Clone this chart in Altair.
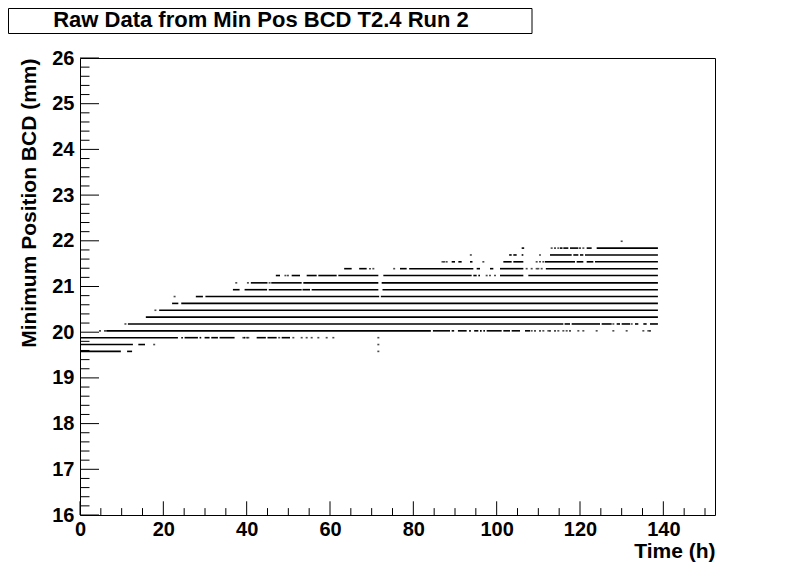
import altair as alt
import pandas as pd

TITLE = "Raw Data from Min Pos BCD T2.4 Run 2"
X_TITLE = "Time (h)"
Y_TITLE = "Minimum Position BCD (mm)"

X_DOMAIN = [0, 152.4]
Y_DOMAIN = [16, 26]
X_LABELS = [0, 20, 40, 60, 80, 100, 120, 140]
X_MINOR = [5, 10, 15, 25, 30, 35, 45, 50, 55, 65, 70, 75, 85, 90, 95,
           105, 110, 115, 125, 130, 135, 145, 150]
Y_LABELS = [16, 17, 18, 19, 20, 21, 22, 23, 24, 25, 26]
Y_MINOR = [round(16 + 0.2 * i, 1) for i in range(1, 50) if i % 5 != 0]

# quantised position levels (mm)
LEVELS = [19.58, 19.73, 19.88, 20.03, 20.18, 20.33, 20.48, 20.63, 20.78,
          20.93, 21.08, 21.24, 21.39, 21.54, 21.69, 21.84, 21.99]

# continuous runs of samples on each level: (start h, end h)
SEGMENTS = [
    [(0, 9.8), (11.3, 12.5)],
    [(0, 12.7), (14.0, 15.6)],
    [(0, 23.5), (24.3, 24.7), (25.1, 28.3), (28.7, 29.1), (29.9, 31.1), (31.5, 33.1),
     (33.5, 37.1), (39.3, 39.7), (42.4, 44.6), (45.0, 47.2), (48.4, 50.4)],
    [(6.3, 84.2), (84.7, 88.8), (89.2, 89.8), (90.7, 92.8), (93.4, 93.8), (94.6, 95.6),
     (96.0, 96.4), (96.8, 97.2), (97.6, 101.2), (101.6, 103.2), (103.6, 105.6), (106.8, 108.0)],
    [(11.5, 116.0), (116.3, 117.6), (118.0, 124.8), (125.2, 127.6), (128.8, 129.6),
     (130.0, 132.0), (133.2, 134.0), (135.2, 136.0), (136.8, 138.7)],
    [(15.8, 138.7)],
    [(19.0, 138.7)],
    [(22.1, 23.6), (24.3, 138.7)],
    [(27.8, 29.5), (30.1, 71.8), (72.2, 138.7)],
    [(36.7, 38.3), (39.5, 44.9), (45.3, 53.2), (53.4, 55.2), (55.6, 71.6), (72.6, 138.7)],
    [(41.0, 45.0), (45.9, 53.2), (53.6, 71.6), (72.4, 138.7)],
    [(47.0, 48.0), (50.8, 52.8), (54.4, 56.8), (57.2, 61.6), (62.0, 71.6), (72.8, 94.0),
     (94.4, 95.2), (95.6, 96.0), (100.8, 106.4), (107.6, 138.7)],
    [(63.4, 65.2), (67.0, 68.8), (76.8, 78.4), (79.0, 94.4), (95.2, 96.0), (98.4, 99.2),
     (100.8, 106.4), (111.8, 138.7)],
    [(89.2, 90.0), (90.8, 91.6), (93.6, 94.2), (101.6, 103.6), (104.0, 106.4), (111.6, 118.8),
     (119.2, 120.8), (121.6, 123.2), (123.6, 138.7)],
    [(103.0, 103.6), (104.0, 104.8), (106.0, 106.4), (112.8, 118.0), (118.4, 119.6),
     (120.0, 120.8), (121.2, 138.7)],
    [(106.0, 106.6), (115.2, 115.8), (116.0, 117.2), (117.6, 119.6), (121.6, 122.8), (124.0, 138.7)],
    [],
]

# isolated samples on each level (h)
DOTS = [
    [71.6],
    [17.8, 71.6],
    [39.2, 40.1, 40.4, 47.8, 51.2, 53.2, 54.4, 55.6, 57.2, 59.2, 60.8, 71.6],
    [4.8, 6.0, 108.4, 109.2, 110.4, 111.2, 112.4, 112.8, 114.0, 114.8, 116.0, 116.8, 117.6,
     119.6, 120.8, 124.0, 128.0, 131.2, 135.2, 136.4, 136.8],
    [10.9, 128.0, 132.4],
    [],
    [18.1],
    [],
    [22.7],
    [],
    [37.5, 40.3, 45.5],
    [49.3, 49.9, 97.6, 98.4, 99.6],
    [69.6, 70.4, 75.4, 107.2, 108.4, 109.6, 110.0, 110.8],
    [87.0, 87.4, 88.0, 96.8, 109.6, 110.4, 111.2],
    [93.8, 110.4],
    [113.2, 114.0, 114.8, 120.0, 120.8],
    [130.0],
]

FONT = "Liberation Sans"

seg_rows = []
for lvl, segs in zip(LEVELS, SEGMENTS):
    for a, b in segs:
        seg_rows.append({"y": lvl, "t0": a, "t1": b})
seg_df = pd.DataFrame(seg_rows)

dot_rows = []
for lvl, ts in zip(LEVELS, DOTS):
    for t in ts:
        dot_rows.append({"y": lvl, "t": t})
dot_df = pd.DataFrame(dot_rows)

W, H = 635, 457
xs = alt.Scale(domain=X_DOMAIN, nice=False, zero=False)
ys = alt.Scale(domain=Y_DOMAIN, nice=False, zero=False)

x_axis = alt.Axis(values=X_LABELS, ticks=False, tickSize=0, domain=False, grid=False,
                  labelFont=FONT, labelFontSize=20, labelFontWeight="bold", labelColor="black",
                  labelPadding=4, labelFlush=False, labelOverlap=False,
                  titleFont=FONT, titleFontSize=21, titleFontWeight="bold", titleColor="black",
                  titleAnchor="end", titleAlign="right", titleX=W, titleY=42,
                  titleBaseline="alphabetic")
y_axis = alt.Axis(values=Y_LABELS, ticks=False, tickSize=0, domain=False, grid=False,
                  labelFont=FONT, labelFontSize=20, labelFontWeight="bold", labelColor="black",
                  labelPadding=6, labelFlush=False, labelOverlap=False,
                  titleFont=FONT, titleFontSize=21, titleFontWeight="bold", titleColor="black",
                  titleAnchor="end", titleAlign="right", titleAngle=270, titleX=-45, titleY=0,
                  titleBaseline="alphabetic")


def X(field):
    return alt.X(field, type="quantitative", scale=xs, axis=x_axis, title=X_TITLE)


def Y(field):
    return alt.Y(field, type="quantitative", scale=ys, axis=y_axis, title=Y_TITLE)


segments = alt.Chart(seg_df).mark_rule(color="black", strokeWidth=1.6).encode(
    x=X("t0"), x2="t1", y=Y("y"),
)

dots = alt.Chart(dot_df).mark_tick(orient="horizontal", size=2, thickness=1.6, color="black").encode(
    x=X("t"), y=Y("y"),
)

xmaj = alt.Chart(pd.DataFrame({"t": X_LABELS})).mark_rule(color="black", strokeWidth=1).encode(
    x=X("t"), y=alt.value(H), y2=alt.value(H - 13.7))
xmin = alt.Chart(pd.DataFrame({"t": X_MINOR})).mark_rule(color="black", strokeWidth=1).encode(
    x=X("t"), y=alt.value(H), y2=alt.value(H - 6.9))
ymaj = alt.Chart(pd.DataFrame({"v": Y_LABELS})).mark_rule(color="black", strokeWidth=1).encode(
    y=Y("v"), x=alt.value(0), x2=alt.value(19))
ymin = alt.Chart(pd.DataFrame({"v": Y_MINOR})).mark_rule(color="black", strokeWidth=1).encode(
    y=Y("v"), x=alt.value(0), x2=alt.value(9.5))

one = pd.DataFrame({"label": [TITLE]})
title_box = alt.Chart(one).mark_rect(fill="white", stroke="black", strokeWidth=1).encode(
    x=alt.value(-71.5), x2=alt.value(452), y=alt.value(-49.5), y2=alt.value(-24.5))
title_text = alt.Chart(one).mark_text(font=FONT, fontSize=22, fontWeight="bold", color="black",
                                      align="center", baseline="middle").encode(
    x=alt.value(181), y=alt.value(-38), text="label:N")

chart = alt.layer(segments, dots, xmaj, xmin, ymaj, ymin, title_box, title_text).properties(
    width=W, height=H,
    autosize=alt.AutoSizeParams(type="none"),
    padding={"left": 72, "top": 50, "right": 73, "bottom": 49},
).configure(
    background="white",
    view=alt.ViewConfig(stroke="black", strokeWidth=1),
)

chart.save("out.html", embed_options={"renderer": "svg", "actions": False})
